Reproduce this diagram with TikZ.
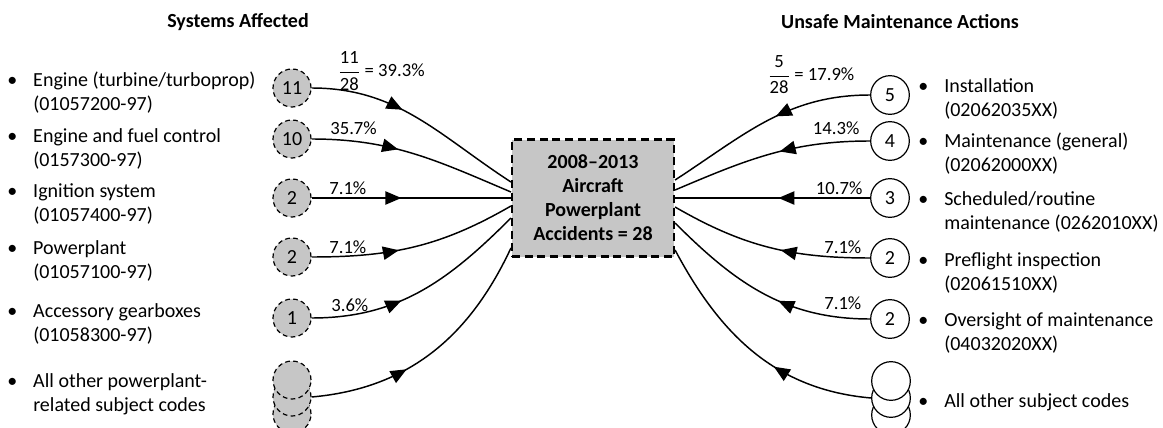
\documentclass[tikz,border=0pt]{standalone}
\usepackage{amsmath}
\usepackage{fontspec}
\setmainfont{Carlito}
\usepackage{tikz}
\usetikzlibrary{arrows.meta,decorations.markings}
\definecolor{sysgray}{RGB}{198,198,198}
\newcommand{\bitem}[2]{\begin{tabular}{@{}l@{}l@{}}\makebox[19.5pt][l]{\textbullet}&#1\\&#2\end{tabular}}

\begin{document}
\begin{tikzpicture}[x=0.75pt,y=0.75pt,font=\fontsize{15}{18}\selectfont,
  sysnode/.style={circle,draw,fill=sysgray,line width=0.9pt,dash pattern=on 3.5pt off 2.5pt,minimum size=28.5pt,inner sep=0pt},
  actnode/.style={circle,draw,fill=white,line width=0.9pt,minimum size=29pt,inner sep=0pt},
  accbox/.style={draw,fill=sysgray,line width=1.6pt,dash pattern=on 6pt off 3.5pt,minimum width=121.5pt,minimum height=87.75pt,align=center,font=\fontsize{15}{18}\selectfont\bfseries},
  item/.style={anchor=west,inner sep=0pt},
  lbl/.style={inner sep=0pt,font=\fontsize{14}{16}\selectfont},
  flow/.style={line width=1.1pt,postaction={decorate},decoration={markings,mark=at position #1 with {\arrow{Triangle[length=12pt,width=10pt]}}}},
  flow/.default=0.43]
  \useasboundingbox[fill=white] (0,0) rectangle (1163,-428);
  \node[font=\fontsize{15}{18}\selectfont\bfseries] (ttlL) at (238,-22) {Systems Affected};
  \node[font=\fontsize{15}{18}\selectfont\bfseries] (ttlR) at (900,-22) {Unsafe Maintenance Actions};
  \node[accbox] (acc) at (593,-198) {2008--2013\\Aircraft\\Powerplant\\Accidents = 28};

  \node[sysnode] (s1) at (292,-88) {11};
  \node[sysnode] (s2) at (292,-139) {10};
  \node[sysnode] (s3) at (292,-198) {2};
  \node[sysnode] (s4) at (292,-257) {2};
  \node[sysnode] (s5) at (292,-318) {1};
  \node[sysnode] (s6c) at (292,-414) {};
  \node[sysnode] (s6b) at (292,-397) {};
  \node[sysnode] (s6) at (292,-380) {};

  \node[actnode] (u1) at (890,-95) {5};
  \node[actnode] (u2) at (890,-141) {4};
  \node[actnode] (u3) at (890,-198) {3};
  \node[actnode] (u4) at (890,-258) {2};
  \node[actnode] (u5) at (890,-319) {2};
  \node[actnode] (u6c) at (891,-415) {};
  \node[actnode] (u6b) at (891,-398) {};
  \node[actnode] (u6) at (891,-381) {};

  \node[item] (t1) at (7,-94) {\bitem{Engine (turbine/turboprop)}{(01057200-97)}};
  \node[item] (t2) at (7,-150) {\bitem{Engine and fuel control}{(0157300-97)}};
  \node[item] (t3) at (7,-205) {\bitem{Ignition system}{(01057400-97)}};
  \node[item] (t4) at (7,-262) {\bitem{Powerplant}{(01057100-97)}};
  \node[item] (t5) at (7,-325) {\bitem{Accessory gearboxes}{(01058300-97)}};
  \node[item] (t6) at (7,-395) {\bitem{All other powerplant-}{related subject codes}};

  \node[item] (r1) at (918,-100) {\bitem{Installation}{(02062035XX)}};
  \node[item] (r2) at (918,-155) {\bitem{Maintenance (general)}{(02062000XX)}};
  \node[item] (r3) at (918,-213) {\bitem{Scheduled/routine}{maintenance (0262010XX)}};
  \node[item] (r4) at (918,-274) {\bitem{Preflight inspection}{(02061510XX)}};
  \node[item] (r5) at (918,-334) {\bitem{Oversight of maintenance}{(04032020XX)}};
  \node[item] (r6) at (918,-402) {\makebox[19.5pt][l]{\textbullet}All other subject codes};

  \draw[flow=0.42] (s1.east) node[lbl,anchor=west,shift={(26,17)}] {$\dfrac{\text{11}}{\text{28}}$ = 39.3\%} to[out=0,in=147] ([yshift=12pt]acc.west);
  \draw[flow=0.42] (s2.east) node[lbl,anchor=west,shift={(18,11)}] {35.7\%} to[out=0,in=157] ([yshift=4.5pt]acc.west);
  \draw[flow=0.45] (s3.east) node[lbl,anchor=west,shift={(17,10)}] {7.1\%} -- (acc.west |- s3.east);
  \draw[flow=0.42] (s4.east) node[lbl,anchor=west,shift={(17,10)}] {7.1\%} to[out=0,in=210] ([yshift=-6pt]acc.west);
  \draw[flow=0.4] (s5.east) node[lbl,anchor=west,shift={(19,13)}] {3.6\%} to[out=0,in=225] ([yshift=-15pt]acc.west);
  \draw[flow=0.38] (s6b.east) to[out=5,in=245] ([yshift=-37.5pt]acc.west);

  \draw[flow=0.45] (u1.west) node[lbl,anchor=east,shift={(-15,20)}] {$\dfrac{\text{5}}{\text{28}}$ = 17.9\%} to[out=180,in=33] ([yshift=13.5pt]acc.east);
  \draw[flow=0.45] (u2.west) node[lbl,anchor=east,shift={(-10,13)}] {14.3\%} to[out=180,in=23] ([yshift=6pt]acc.east);
  \draw[flow=0.47] (u3.west) node[lbl,anchor=east,shift={(-7,10)}] {10.7\%} -- (acc.east |- u3.west);
  \draw[flow=0.44] (u4.west) node[lbl,anchor=east,shift={(-8,11)}] {7.1\%} to[out=180,in=-30] ([yshift=-6.75pt]acc.east);
  \draw[flow=0.42] (u5.west) node[lbl,anchor=east,shift={(-8,16)}] {7.1\%} to[out=180,in=-45] ([yshift=-18.75pt]acc.east);
  \draw[flow=0.4] (u6b.west) to[out=175,in=-62] ([yshift=-39pt]acc.east);
\end{tikzpicture}
\end{document}
